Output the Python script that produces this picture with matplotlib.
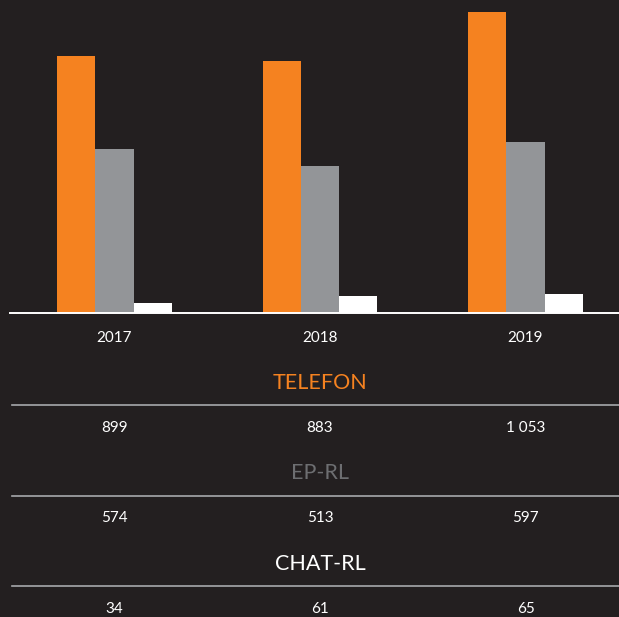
import matplotlib
matplotlib.use("Agg")
import matplotlib.pyplot as plt
from matplotlib.lines import Line2D
import numpy as np

years = ["2017", "2018", "2019"]
telefon = [899, 883, 1053]
ep_rl = [574, 513, 597]
chat_rl = [34, 61, 65]
series_names = ["TELEFON", "EP-RL", "CHAT-RL"]

BG = "#231f20"
ORANGE = "#f58220"
GRAY = "#939598"
WHITE = "#ffffff"

W, H = 619, 617
fig = plt.figure(figsize=(W / 100, H / 100), dpi=100, facecolor=BG)
plt.rcParams['font.family'] = ['Lato', 'DejaVu Sans']

def fx(px):
    return px / W

def fy(py):
    return 1 - py / H

# chart axes: from x=10 to 619, y from 0 to 313 (baseline)
ax = fig.add_axes([fx(10), fy(313), fx(619 - 10), 313 / H])
ax.set_facecolor(BG)
x = np.arange(len(years))
bw = 0.185
ax.bar(x - bw, telefon, bw, color=ORANGE, align='center')
ax.bar(x, ep_rl, bw, color=GRAY, align='center')
ax.bar(x + bw, chat_rl, bw, color=WHITE, align='center')
ax.set_xlim(-0.5085, 2.455)
ax.set_ylim(0, 1095)
for s in ax.spines.values():
    s.set_visible(False)
ax.set_xticks([])
ax.set_yticks([])
ax.axhline(0, color=WHITE, lw=1.4, clip_on=False)

# column centers in pixel coords
col_px = [114.5 + 205.5 * i for i in range(len(years))]

for cx, yr in zip(col_px, years):
    fig.text(fx(cx), fy(338), yr, color=WHITE, fontsize=11, ha='center', va='center')

header_y = [383, 473, 564]
line_y = [405, 496, 586]
value_y = [428, 518, 609]
header_colors = [ORANGE, "#6d6e71", WHITE]
all_vals = [telefon, ep_rl, chat_rl]

def fmt(v):
    return f"{v:,}".replace(",", " ")

for name, hy, ly, vy, col, vals in zip(series_names, header_y, line_y, value_y, header_colors, all_vals):
    fig.text(fx(320), fy(hy), name, color=col, fontsize=15.5,
             ha='center', va='center')
    fig.add_artist(Line2D([fx(12), fx(619)], [fy(ly), fy(ly)], color="#a7a9ac", lw=1.2))
    for cx, v in zip(col_px, vals):
        fig.text(fx(cx), fy(vy), fmt(v), color=WHITE, fontsize=11, ha='center', va='center')

fig.savefig("out.png", dpi=100, facecolor=BG)
